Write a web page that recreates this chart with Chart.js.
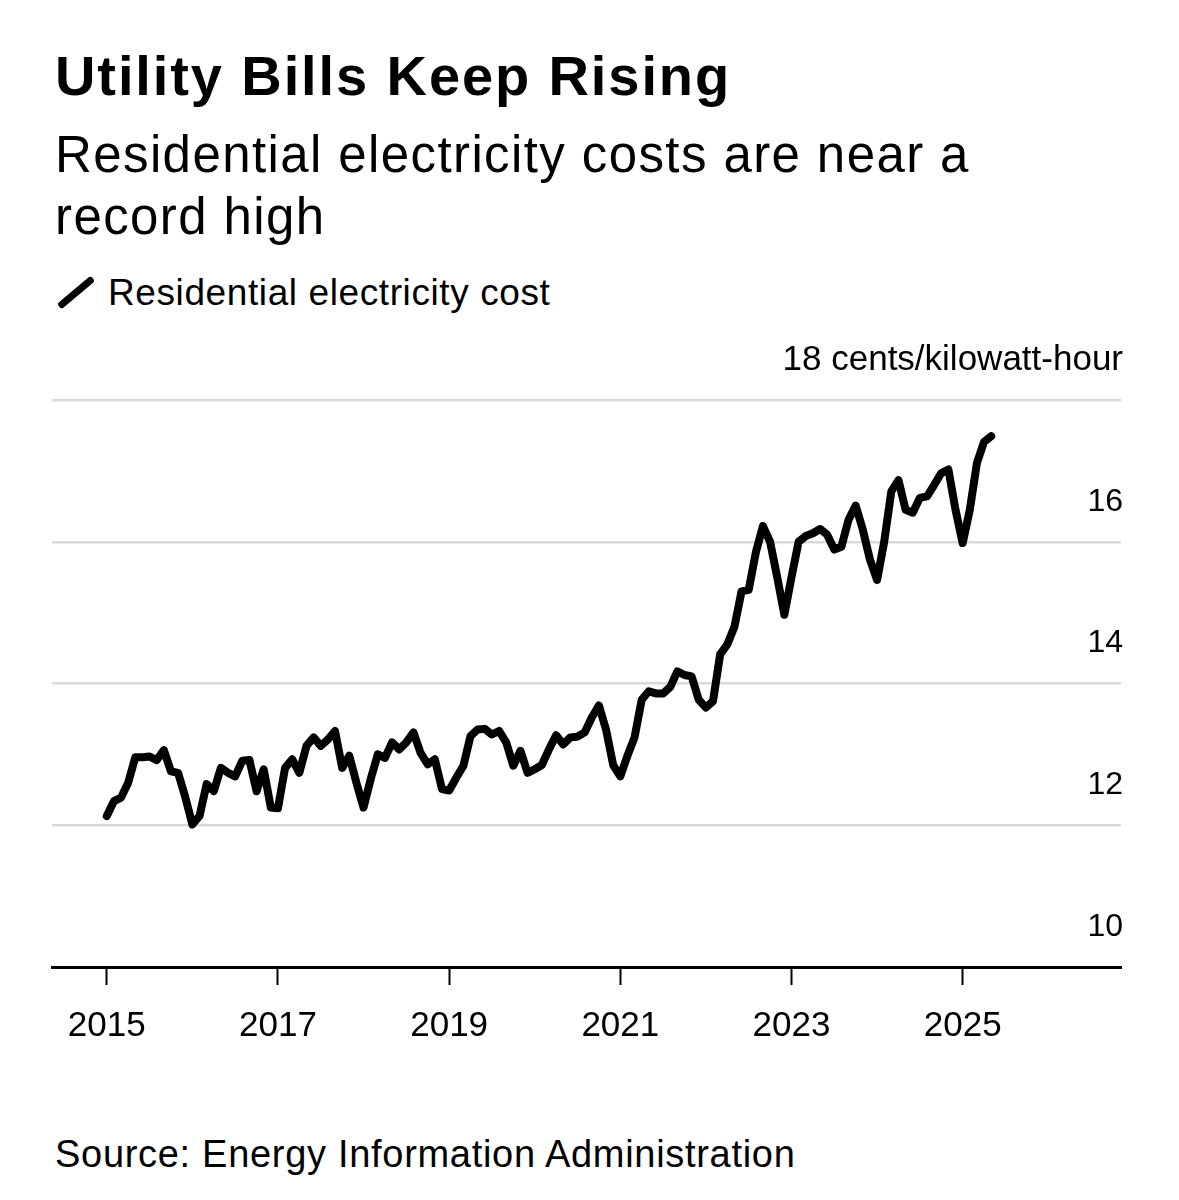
<!DOCTYPE html>
<html>
<head>
<meta charset="utf-8">
<script src="https://cdn.jsdelivr.net/npm/chart.js@4/dist/chart.umd.min.js"></script>
<style>
  body { margin: 0; background: #fff; font-family: "Liberation Sans", Arial, sans-serif; color: #000; }
  #wrap { position: relative; width: 1179px; height: 1200px; }
  .title { position: absolute; left: 55px; top: 48px; font-size: 56px; line-height: 1; font-weight: bold; letter-spacing: 1.9px; white-space: nowrap; }
  .sub { position: absolute; left: 55px; top: 124px; font-size: 51px; line-height: 62px; letter-spacing: 1.4px; white-space: nowrap; }
  .mark { position: absolute; left: 54px; top: 289px; width: 44px; height: 7px; background: #000; border-radius: 3px; transform: rotate(-40deg); }
  .legend { position: absolute; left: 108px; top: 274px; font-size: 37px; line-height: 1; letter-spacing: 0.6px; white-space: nowrap; }
  .source { position: absolute; left: 55px; top: 1135px; font-size: 38px; line-height: 1; letter-spacing: 0.7px; white-space: nowrap; }
  #chartBox { position: absolute; left: 0; top: 330px; width: 1179px; height: 747px; }
</style>
</head>
<body>
<div id="wrap">
  <div class="title">Utility Bills Keep Rising</div>
  <div class="sub">Residential electricity costs are near a<br>record high</div>
  <div class="mark"></div>
  <div class="legend">Residential electricity cost</div>
  <div id="chartBox"><canvas id="myChart"></canvas></div>
  <div class="source">Source: Energy Information Administration</div>
</div>
<script>
// data - monthly, cents per kilowatt-hour, starting Jan 2015
var startYear = 2015;
var costs = [
  12.13, 12.34, 12.39, 12.60, 12.96, 12.96, 12.97, 12.92, 13.06, 12.76, 12.74, 12.40, // 2015
  12.01, 12.13, 12.58, 12.48, 12.81, 12.74, 12.69, 12.91, 12.92, 12.48, 12.79, 12.25, // 2016
  12.24, 12.81, 12.93, 12.74, 13.12, 13.24, 13.12, 13.21, 13.33, 12.81, 12.98, 12.60, // 2017
  12.25, 12.65, 13.00, 12.95, 13.17, 13.07, 13.17, 13.31, 13.02, 12.86, 12.93, 12.51, // 2018
  12.49, 12.67, 12.84, 13.26, 13.35, 13.36, 13.28, 13.33, 13.17, 12.84, 13.05, 12.74, // 2019
  12.79, 12.85, 13.07, 13.27, 13.14, 13.24, 13.25, 13.31, 13.52, 13.69, 13.35, 12.85, // 2020
  12.69, 12.98, 13.24, 13.77, 13.89, 13.86, 13.86, 13.95, 14.17, 14.12, 14.10, 13.77, // 2021
  13.66, 13.75, 14.41, 14.55, 14.80, 15.30, 15.32, 15.85, 16.22, 16.00, 15.50, 14.97, // 2022
  15.50, 16.00, 16.08, 16.12, 16.18, 16.10, 15.89, 15.93, 16.31, 16.51, 16.17, 15.75, // 2023
  15.46, 16.00, 16.71, 16.87, 16.45, 16.41, 16.62, 16.64, 16.80, 16.97, 17.02, 16.45, // 2024
  15.98, 16.45, 17.11, 17.41, 17.49                                                   // 2025
];
var xTicks = [2015, 2017, 2019, 2021, 2023, 2025];
var yTicks = [10, 12, 14, 16, 18];
var unitLabel = '18 cents/kilowatt-hour';

var points = costs.map(function (v, i) {
  return { x: startYear + i / 12, y: v };
});

var ctx = document.getElementById('myChart');
var myChart = new Chart(ctx, {
  type: 'line',
  data: {
    datasets: [{
      label: 'Residential electricity cost',
      data: points,
      borderColor: '#000',
      borderWidth: 8,
      borderJoinStyle: 'round',
      borderCapStyle: 'round',
      pointRadius: 0,
      tension: 0
    }]
  },
  options: {
    responsive: true,
    maintainAspectRatio: false,
    animation: false,
    layout: { padding: { left: 52, right: 54, top: 70, bottom: 10 } },
    plugins: {
      legend: { display: false },
      tooltip: { enabled: false }
    },
    scales: {
      x: {
        type: 'linear',
        min: 2014.36,
        max: 2026.85,
        afterBuildTicks: function (axis) {
          axis.ticks = xTicks.map(function (v) { return { value: v }; });
        },
        grid: { drawOnChartArea: false, drawTicks: true, tickLength: 18, color: '#000', tickWidth: 2 },
        border: { display: true, color: '#000', width: 3 },
        ticks: {
          color: '#000',
          padding: 20,
          maxRotation: 0,
          font: { family: 'Liberation Sans', size: 35 },
          callback: function (v) { return String(v); }
        }
      },
      y: {
        position: 'right',
        min: 10,
        max: 18,
        afterBuildTicks: function (axis) {
          axis.ticks = yTicks.map(function (v) { return { value: v }; });
        },
        grid: {
          drawTicks: false,
          color: function (c) { return c.tick && c.tick.value === 10 ? 'rgba(0,0,0,0)' : '#d9d9d9'; },
          lineWidth: 2.5
        },
        border: { display: false },
        ticks: {
          mirror: true,
          autoSkip: false,
          padding: 2,
          labelOffset: -40,
          color: '#000',
          font: function (c) {
            return { family: 'Liberation Sans', size: c.tick && c.tick.value === 18 ? 35 : 32 };
          },
          callback: function (v) { return v === 18 ? unitLabel : String(v); }
        }
      }
    }
  }
});
</script>
</body>
</html>
